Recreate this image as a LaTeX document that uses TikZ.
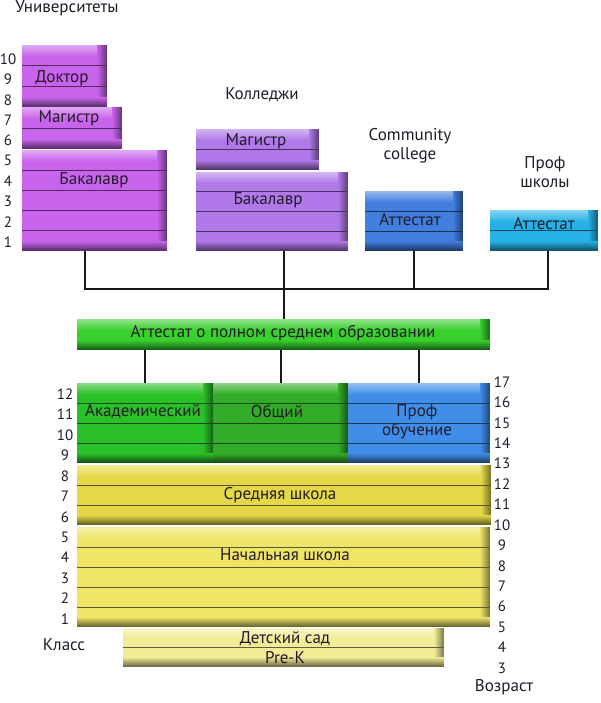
\documentclass[tikz,border=0pt]{standalone}
\usepackage{fontspec}
\setmainfont{PT Sans}
\usepackage{tikz}
\usetikzlibrary{calc}
\definecolor{UniPurple}{RGB}{200,100,236}
\definecolor{CollegePurple}{RGB}{176,120,232}
\definecolor{CommBlue}{RGB}{66,126,222}
\definecolor{ProfCyan}{RGB}{38,178,230}
\definecolor{CertGreen}{RGB}{56,208,44}
\definecolor{AcadGreen}{RGB}{42,192,40}
\definecolor{GenGreen}{RGB}{50,172,38}
\definecolor{VocBlue}{RGB}{64,142,232}
\definecolor{MidYellow}{RGB}{228,216,72}
\definecolor{ElemYellow}{RGB}{238,228,104}
\definecolor{KinderYellow}{RGB}{242,236,150}
\definecolor{TextDark}{RGB}{34,26,40}

% horizontal lines that split a box into equal rows
\newcommand{\rowsplit}[3]{%
  \pgfmathtruncatemacro{\nsplit}{#2-1}
  \foreach \k in {1,...,\nsplit}
    \draw[rowline=#3] ($(#1.north west)!\k/#2!(#1.south west)$) -- ($(#1.north east)!\k/#2!(#1.south east)$);
}

\begin{document}
\begin{tikzpicture}[
    x=1pt, y=-1pt,
    blk/.style={fill=#1, inner sep=0pt, outer sep=0pt, anchor=north west,
      path picture={
        % light top, dark right edge, dark bottom
        \foreach \i in {0,...,11}{
          \pgfmathtruncatemacro{\pc}{55+4*\i}
          \fill[#1!\pc!white] ([yshift=-\i pt]path picture bounding box.north west)
            rectangle ([yshift=-\i pt-1.4pt]path picture bounding box.north east);
        }
        \foreach \i in {0,...,9}{
          \pgfmathtruncatemacro{\pc}{100-5*\i}
          \fill[#1!\pc!black] ([xshift=\i pt-10pt]path picture bounding box.north east)
            rectangle ([xshift=\i pt-8.6pt]path picture bounding box.south east);
        }
        \foreach \i in {0,...,9}{
          \pgfmathtruncatemacro{\pc}{100-6*\i}
          \fill[#1!\pc!black] ([yshift=10pt-\i pt]path picture bounding box.south west)
            rectangle ([yshift=8.6pt-\i pt]path picture bounding box.south east);
        }
      }},
    rowline/.style={draw=#1!40!black, line width=0.9pt},
    lbl/.style={font=\fontsize{17}{19.5}\selectfont, text=TextDark, inner sep=0pt, align=center},
    num/.style={font=\fontsize{15}{17}\selectfont, text=TextDark, inner sep=0pt},
    wire/.style={draw=black!90, line width=2pt}
]
\useasboundingbox (0,0) rectangle (600,703);

% universities
\node[lbl] (unihead) at (67,8) {Университеты};
\node[blk=UniPurple, minimum width=85pt, minimum height=62pt] (udoc) at (22,45) {};
\node[blk=UniPurple, minimum width=100pt, minimum height=42pt] (umag) at (22,107) {};
\node[blk=UniPurple, minimum width=145pt, minimum height=101pt] (ubach) at (22,150) {};
\rowsplit{udoc}{3}{UniPurple}
\rowsplit{umag}{2}{UniPurple}
\rowsplit{ubach}{5}{UniPurple}
\node[lbl] (udoctxt) at (62,78) {Доктор};
\node[lbl] (umagtxt) at (69,118) {Магистр};
\node[lbl] (ubachtxt) at (94,180) {Бакалавр};
\foreach \g in {1,...,10}
  \node[num] (ug\g) at (8,{242-20.3*(\g-1)}) {\g};

% colleges
\node[lbl] (colhead) at (262,95) {Колледжи};
\node[blk=CollegePurple, minimum width=123pt, minimum height=41pt] (cmag) at (196,129) {};
\node[blk=CollegePurple, minimum width=152pt, minimum height=79pt] (cbach) at (196,172) {};
\rowsplit{cmag}{2}{CollegePurple}
\rowsplit{cbach}{4}{CollegePurple}
\node[lbl] (cmagtxt) at (256,141) {Магистр};
\node[lbl] (cbachtxt) at (268,200) {Бакалавр};

% community college and vocational schools
\node[lbl] (commhead) at (410,146) {Community\\college};
\node[blk=CommBlue, minimum width=98pt, minimum height=60pt] (comm) at (365,191) {};
\rowsplit{comm}{3}{CommBlue}
\node[lbl] (commtxt) at (410,220) {Аттестат};
\node[lbl] (profhead) at (545,172) {Проф\\школы};
\node[blk=ProfCyan, minimum width=108pt, minimum height=41pt] (prof) at (490,210) {};
\rowsplit{prof}{2}{ProfCyan}
\node[lbl] (proftxt) at (544,224) {Аттестат};

% high school diploma
\node[blk=CertGreen, minimum width=413pt, minimum height=31pt] (cert) at (77,319) {};
\node[lbl] (certtxt) at (283,333) {Аттестат о полном среднем образовании};

% connectors
\coordinate (busw) at (85,289);
\coordinate (buse) at (548,289);
\draw[wire] (ubach.south -| busw) -- (busw) -- (buse) -- (prof.south -| buse);
\draw[wire] (comm.south) -- (comm.south |- busw);
\draw[wire] (cbach.south -| cert.north) -- (cert.north);

% high school tracks
\node[blk=AcadGreen, minimum width=136pt, minimum height=80pt] (acad) at (77,383) {};
\node[blk=GenGreen, minimum width=135pt, minimum height=80pt] (gen) at (213,383) {};
\node[blk=VocBlue, minimum width=142pt, minimum height=80pt] (voc) at (348,383) {};
\rowsplit{acad}{4}{AcadGreen}
\rowsplit{gen}{4}{GenGreen}
\rowsplit{voc}{4}{VocBlue}
\node[lbl] (acadtxt) at (143,412) {Академический};
\node[lbl] (gentxt) at (277,412) {Общий};
\node[lbl] (voctxt) at (417,422) {Проф\\обучение};
\draw[wire] (acad.north |- cert.south) -- (acad.north);
\draw[wire] (gen.north |- cert.south) -- (gen.north);
\draw[wire] (voc.north |- cert.south) -- (voc.north);

% schools
\node[blk=MidYellow, minimum width=414pt, minimum height=60pt] (mid) at (77,465) {};
\node[blk=ElemYellow, minimum width=413pt, minimum height=100pt] (elem) at (77,527) {};
\node[blk=KinderYellow, minimum width=321pt, minimum height=39pt] (kind) at (123,628) {};
\rowsplit{mid}{3}{MidYellow}
\rowsplit{elem}{5}{ElemYellow}
\rowsplit{kind}{2}{KinderYellow}
\node[lbl] (midtxt) at (280,495) {Средняя школа};
\node[lbl] (elemtxt) at (285,555) {Начальная школа};
\node[lbl] (kindtxt) at (285,639) {Детский сад};
\node[lbl] (prektxt) at (285,658) {Pre-K};

% grades and ages
\foreach \g in {1,...,12}
  \node[num] (sg\g) at (65,{619-20.45*(\g-1)}) {\g};
\foreach \a in {3,...,17}
  \node[num] (age\a) at (502,{668-20.43*(\a-3)}) {\a};
\node[lbl] (gradehead) at (64,645) {Класс};
\node[lbl] (agehead) at (504,687) {Возраст};
\end{tikzpicture}
\end{document}
